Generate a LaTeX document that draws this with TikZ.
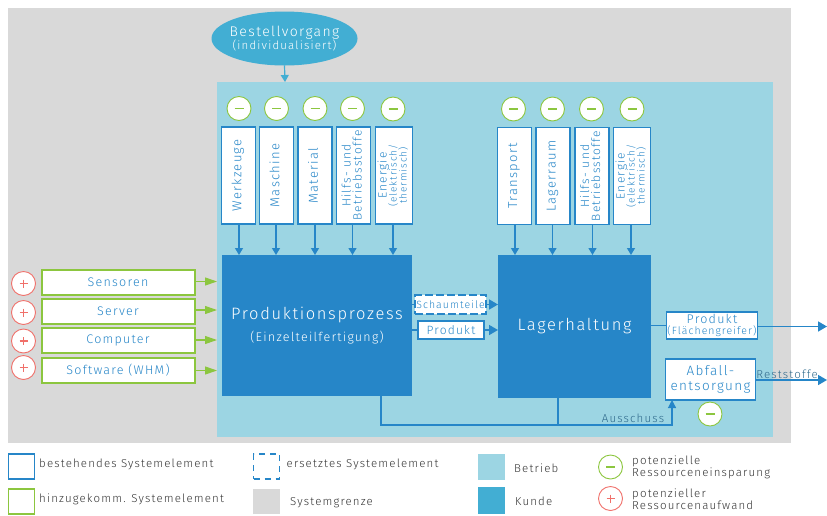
\documentclass[tikz,border=0pt]{standalone}
\usepackage{graphicx}
\usepackage{fontspec}
\setmainfont{Fira Sans Light}[LetterSpace=10]
\usetikzlibrary{arrows.meta,shapes.geometric}
\definecolor{sysgray}{HTML}{D9D9D9}
\definecolor{betrieb}{HTML}{9CD5E3}
\definecolor{kunde}{HTML}{42AED3}
\definecolor{blau}{HTML}{2686C8}
\definecolor{gruen}{HTML}{8CC63F}
\definecolor{rot}{HTML}{F0706A}
\definecolor{blautext}{HTML}{2686C8}
\definecolor{dunkel}{HTML}{2F6A8C}
\definecolor{legtext}{HTML}{333333}
\newcommand{\fs}[1]{\fontsize{#1}{#1}\selectfont}
\newcommand{\vt}[1]{\rotatebox{90}{\begin{tabular}{@{}c@{}}#1\end{tabular}}}
\newcommand{\en}{\fs{12}Energie\\[-3pt]\fs{10}(elektrisch/\\[-3pt]\fs{10}thermisch)}
\newcommand{\hb}{\fs{12}Hilfs- und\\[-2pt]\fs{12}Betriebsstoffe}
\tikzset{
  box/.style={draw=blau,line width=1.7pt,fill=white,inner sep=0pt,outer sep=0pt,text=blautext,align=center},
  greenbox/.style={box,draw=gruen,line width=2pt,font=\fs{12.5}},
  vbox/.style={box,font=\fs{13}},
  proc/.style={fill=blau,inner sep=0pt,outer sep=0pt,text=white,align=center},
  mini/.style={circle,draw=gruen,line width=0.9pt,fill=white,minimum size=24pt,inner sep=0pt},
  plus/.style={circle,draw=rot,line width=0.9pt,fill=white,minimum size=24pt,inner sep=0pt},
  conn/.style={draw=blau,line width=1.2pt},
  arr/.style={conn,-{Triangle[length=7pt,width=8pt]}},
  bigarr/.style={conn,line width=1.6pt,-{Triangle[length=9pt,width=10pt]}},
  garr/.style={draw=gruen,line width=1.1pt,-{Triangle[length=12pt,width=8pt]}},
  leg/.style={anchor=west,text=legtext,font=\fs{11.5},inner sep=0pt,align=left},
  lab/.style={text=dunkel,font=\fs{11.5},inner sep=0pt},
  sw/.style={inner sep=0pt,outer sep=0pt,minimum width=27pt,minimum height=26pt},
}
\begin{document}
\begin{tikzpicture}[x=1pt,y=-1pt]
\useasboundingbox (0,0) rectangle (827,515);
\fill[sysgray] (8,8) rectangle (791,443);
\fill[betrieb] (217,82) rectangle (773,436.5);
% order
\node[ellipse,fill=kunde,minimum width=146pt,minimum height=54pt,inner sep=0pt,outer sep=0pt] (best) at (284.5,38.5) {};
\node[text=white,align=center,font=\fs{14},inner sep=0pt] (bestt) at (best.center) {Bestellvorgang\\[-1pt]\fs{11.5}(individualisiert)};
\coordinate (bin) at (285,82);
\draw[arr,draw=kunde] (best.south) -- (bin);
% processes
\node[proc,minimum width=190pt,minimum height=141pt,font=\fs{16.5}] (prod) at (317,325.5) {Produktionsprozess\\[6pt]\fs{12.5}(Einzelteilfertigung)};
\node[proc,minimum width=153pt,minimum height=143pt,font=\fs{16.5}] (lager) at (574.5,326.5) {Lagerhaltung};
% top resources
\node[vbox,minimum width=34pt,minimum height=97pt] (w1) at (238.5,175.5) {\vt{Werkzeuge}};
\node[vbox,minimum width=34pt,minimum height=97pt] (w2) at (276.5,175.5) {\vt{Maschine}};
\node[vbox,minimum width=34pt,minimum height=97pt] (w3) at (315,175.5) {\vt{Material}};
\node[vbox,minimum width=34pt,minimum height=97pt] (w4) at (353.5,175.5) {\vt{\hb}};
\node[vbox,minimum width=37pt,minimum height=97pt] (w5) at (394,175.5) {\vt{\en}};
\node[vbox,minimum width=34pt,minimum height=97pt] (l1) at (514.5,176) {\vt{Transport}};
\node[vbox,minimum width=34pt,minimum height=97pt] (l2) at (553,176) {\vt{Lagerraum}};
\node[vbox,minimum width=34pt,minimum height=97pt] (l3) at (592,176) {\vt{\hb}};
\node[vbox,minimum width=37pt,minimum height=97pt] (l4) at (632,176) {\vt{\en}};
\foreach \n/\x in {w1/239,w2/276,w3/315,w4/352.5,w5/393,l1/515,l2/552.5,l3/592.5,l4/631}{
  \draw[arr] (\n.south -| \x,0) -- (prod.north -| \x,0);
}
% savings circles
\foreach \n/\x/\y in {mw1/239/108.5,mw2/276.5/108.5,mw3/315/108.5,mw4/352.5/108.5,mw5/393/109,ml1/513.5/109,ml2/552.5/109,ml3/591.5/109,ml4/632/109,mab/710/414,mleg/610.5/467}{
  \node[mini] (\n) at (\x,\y) {};
  \draw[gruen,line width=1.5pt] (\x-4.5,\y) -- (\x+4.5,\y);
}
% added elements
\node[greenbox,minimum width=153pt,minimum height=25pt] (g1) at (118,282.5) {Sensoren};
\node[greenbox,minimum width=153pt,minimum height=25pt] (g2) at (118,311.5) {Server};
\node[greenbox,minimum width=153pt,minimum height=25pt] (g3) at (118,340.5) {Computer};
\node[greenbox,minimum width=153pt,minimum height=25pt] (g4) at (118,370.5) {Software (WHM)};
\coordinate (t1) at (217,281.5);
\coordinate (t2) at (217,310);
\coordinate (t3) at (217,340);
\coordinate (t4) at (217,370.5);
\foreach \i in {1,2,3,4}{ \draw[garr] (g\i.east |- t\i) -- (t\i); }
\foreach \n/\y in {p1/283.5,p2/312.5,p3/341,p4/367.5}{
  \node[plus] (\n) at (23.5,\y) {};
  \draw[rot,line width=1.4pt] (19.5,\y) -- (27.5,\y) (23.5,\y-4) -- (23.5,\y+4);
}
% middle
\node[box,dashed,dash pattern=on 8pt off 3pt,font=\fs{10.5},minimum width=71pt,minimum height=18.5pt] (sch) at (450.5,304.5) {Schaumteile};
\node[box,font=\fs{12},minimum width=66pt,minimum height=18pt] (pm) at (451,330) {Produkt};
\draw[conn] (prod.east |- sch) -- (sch.west);
\draw[bigarr] (sch.east) -- (lager.west |- sch);
\draw[conn] (prod.east |- pm) -- (pm.west);
\draw[bigarr] (pm.east) -- (lager.west |- pm);
% output
\node[box,minimum width=91pt,minimum height=27pt,font=\fs{12.5}] (pf) at (712,325.5) {Produkt\\[-1pt]\fs{10.5}(Flächengreifer)};
\node[box,minimum width=90pt,minimum height=41pt,font=\fs{13.5}] (ab) at (710.5,379.5) {Abfall-\\[1pt]entsorgung};
\coordinate (outa) at (827,326.5);
\coordinate (outb) at (827,380);
\draw[conn,line width=1.6pt] (lager.east |- pf) -- (pf.west);
\draw[bigarr] (pf.east |- outa) -- (outa);
\draw[bigarr] (ab.east |- outb) -- (outb);
\node[lab] (rest) at (787,374.5) {Reststoffe};
% rejects
\coordinate (aus) at (381,425);
\coordinate (aus2) at (558,425);
\draw[conn,-{Triangle[length=8pt,width=8pt]},line width=1.2pt] (prod.south -| aus) -- (aus) -- (aus -| 672,0) -- (ab.south -| 672,0);
\draw[conn] (lager.south -| aus2) -- (aus2);
\node[lab] (ausl) at (633,418) {Ausschuss};
% legend
\node[draw=blau,line width=1.6pt,sw,minimum width=26pt,minimum height=25pt] (k1) at (21.5,466.5) {};
\node[draw=gruen,line width=1.6pt,sw,minimum width=26pt,minimum height=25pt] (k2) at (21.5,501.5) {};
\node[draw=blau,line width=1.6pt,dashed,dash pattern=on 6pt off 5pt,sw,minimum width=26pt,minimum height=25pt] (k3) at (266.5,466.5) {};
\node[fill=sysgray,sw,minimum height=25pt] (k4) at (266.5,501) {};
\node[fill=betrieb,sw] (k5) at (491.5,466.5) {};
\node[fill=kunde,sw,minimum height=27pt] (k6) at (491.5,500.5) {};
\node[plus] (pleg) at (610.5,498.5) {};
\draw[rot,line width=1.4pt] (606.5,498.5) -- (614.5,498.5) (610.5,494.5) -- (610.5,502.5);
\node[leg] (t1x) at (39,464.5) {bestehendes Systemelement};
\node[leg] (t2x) at (39,499) {hinzugekomm. Systemelement};
\node[leg] (t3x) at (286.5,464.5) {ersetztes Systemelement};
\node[leg] (t4x) at (290,503) {Systemgrenze};
\node[leg] (t5x) at (514,468) {Betrieb};
\node[leg] (t6x) at (515,501.5) {Kunde};
\node[leg] (t7x) at (632,467.5) {potenzielle\\[0pt]Ressourceneinsparung};
\node[leg] (t8x) at (632,499) {potenzieller\\[0pt]Ressourcenaufwand};
\end{tikzpicture}
\end{document}
